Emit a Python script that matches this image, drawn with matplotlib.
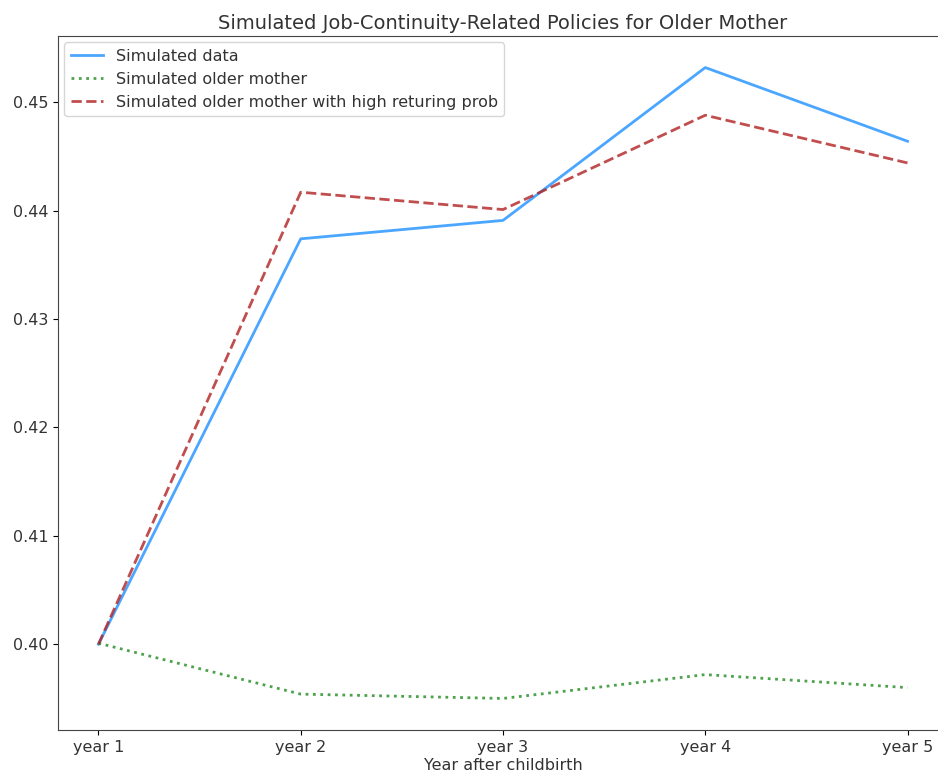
import numpy as np
import matplotlib.pyplot as plt

years = ["year 1", "year 2", "year 3", "year 4", "year 5"]
sim_data = [0.4000, 0.4374, 0.4391, 0.4532, 0.4464]
older_mother = [0.4001, 0.3954, 0.3950, 0.3972, 0.3960]
older_high_return = [0.4000, 0.4417, 0.4401, 0.4488, 0.4444]

plt.rcParams['font.size'] = 11.5
plt.rcParams['text.color'] = '#333333'
plt.rcParams['xtick.labelcolor'] = '#333333'
plt.rcParams['ytick.labelcolor'] = '#333333'
plt.rcParams['axes.labelcolor'] = '#333333'
plt.rcParams['axes.edgecolor'] = '#444444'

fig = plt.figure(figsize=(9.38, 7.81), dpi=100)
ax = fig.add_axes([58 / 938, 1 - 730 / 781, (948 - 58) / 938, (730 - 36) / 781])

x = np.arange(len(years))
ax.plot(x, sim_data, color="dodgerblue", alpha=0.8, lw=2, label="Simulated data")
ax.plot(x, older_mother, color="forestgreen", alpha=0.8, lw=2, ls=":",
        label="Simulated older mother")
ax.plot(x, older_high_return, color="firebrick", alpha=0.8, lw=2, ls="--",
        label="Simulated older mother with high returing prob")

ax.set_xticks(x)
ax.set_xticklabels(years)
ax.set_yticks([0.40, 0.41, 0.42, 0.43, 0.44, 0.45])
ax.set_xlabel("Year after childbirth", labelpad=2)
ax.set_title("Simulated Job-Continuity-Related Policies for Older Mother", fontsize=14, pad=5)
ax.legend(loc="upper left", borderaxespad=0.4)

fig.savefig("out.png", dpi=100)
